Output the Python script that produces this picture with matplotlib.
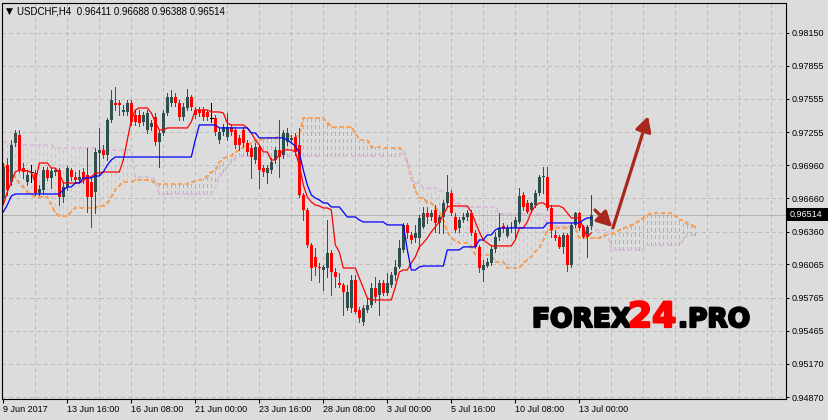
import matplotlib
matplotlib.use("Agg")
import matplotlib.pyplot as plt
import matplotlib.patheffects as pe
import matplotlib.transforms as mtransforms
from matplotlib.patches import Rectangle
import numpy as np

plt.rcParams['font.family'] = ['Liberation Sans', 'DejaVu Sans']

symbol = "USDCHF,H4"

opens = [
    0.96663, 0.96960, 0.96807, 0.97159, 0.97231, 0.96933, 0.96807, 0.96900, 0.96888, 0.96708,
    0.96735, 0.96915, 0.96843, 0.96897, 0.96915, 0.96672, 0.96762, 0.96915, 0.96852, 0.96825,
    0.96897, 0.96870, 0.96807, 0.96717, 0.97068, 0.97096, 0.97050, 0.97366, 0.97519, 0.97519,
    0.97438, 0.97438, 0.97519, 0.97411, 0.97411, 0.97348, 0.97276, 0.97303, 0.97393, 0.97168,
    0.97249, 0.97429, 0.97519, 0.97573, 0.97519, 0.97393, 0.97474, 0.97573, 0.97456, 0.97456,
    0.97456, 0.97438, 0.97384, 0.97384, 0.97186, 0.97258, 0.97213, 0.97303, 0.97276, 0.97204,
    0.97276, 0.97159, 0.97114, 0.97005, 0.97123, 0.96933, 0.96888, 0.96915, 0.97005, 0.97096,
    0.97050, 0.97168, 0.97186, 0.97213, 0.97141, 0.96690, 0.96555, 0.96240, 0.96131, 0.96041,
    0.96014, 0.96032, 0.96168, 0.95996, 0.95897, 0.95879, 0.95672, 0.95672, 0.95924, 0.95654,
    0.95546, 0.95654, 0.95699, 0.95852, 0.95789, 0.95897, 0.95807, 0.95879, 0.95969, 0.96041,
    0.96195, 0.96420, 0.96330, 0.96303, 0.96303, 0.96402, 0.96528, 0.96492, 0.96555, 0.96438,
    0.96492, 0.96618, 0.96708, 0.96492, 0.96393, 0.96465, 0.96492, 0.96528, 0.96348, 0.96222,
    0.96014, 0.96050, 0.96077, 0.96204, 0.96312, 0.96411, 0.96321, 0.96393, 0.96393, 0.96447,
    0.96690, 0.96618, 0.96555, 0.96600, 0.96708, 0.96852, 0.96852, 0.96573, 0.96330, 0.96312,
    0.96222, 0.96330, 0.96059, 0.96420, 0.96528, 0.96402, 0.96312, 0.96411,
]
highs = [
    0.96978, 0.97023, 0.97186, 0.97276, 0.97276, 0.96978, 0.96915, 0.96960, 0.96915, 0.96780,
    0.96942, 0.96942, 0.96933, 0.96933, 0.96933, 0.96807, 0.96951, 0.96933, 0.96897, 0.96915,
    0.96933, 0.97114, 0.96843, 0.97114, 0.97294, 0.97141, 0.97384, 0.97636, 0.97663, 0.97546,
    0.97501, 0.97546, 0.97546, 0.97456, 0.97456, 0.97438, 0.97456, 0.97366, 0.97429, 0.97276,
    0.97456, 0.97609, 0.97636, 0.97609, 0.97546, 0.97519, 0.97645, 0.97591, 0.97483, 0.97483,
    0.97483, 0.97456, 0.97519, 0.97411, 0.97294, 0.97330, 0.97429, 0.97330, 0.97303, 0.97231,
    0.97303, 0.97186, 0.97141, 0.97159, 0.97141, 0.96960, 0.96960, 0.97023, 0.97123, 0.97366,
    0.97276, 0.97294, 0.97231, 0.97249, 0.97294, 0.96708, 0.96573, 0.96258, 0.96213, 0.96077,
    0.96059, 0.96465, 0.96195, 0.96032, 0.95987, 0.95897, 0.95879, 0.95969, 0.95969, 0.95681,
    0.95699, 0.95771, 0.95897, 0.95951, 0.95924, 0.95924, 0.95987, 0.95996, 0.96104, 0.96285,
    0.96438, 0.96438, 0.96357, 0.96420, 0.96510, 0.96582, 0.96582, 0.96555, 0.96600, 0.96510,
    0.96645, 0.96870, 0.96735, 0.96528, 0.96492, 0.96528, 0.96555, 0.96555, 0.96375, 0.96240,
    0.96104, 0.96122, 0.96240, 0.96357, 0.96528, 0.96438, 0.96420, 0.96447, 0.96492, 0.96753,
    0.96717, 0.96645, 0.96627, 0.96735, 0.96870, 0.96942, 0.96942, 0.96600, 0.96375, 0.96330,
    0.96348, 0.96348, 0.96438, 0.96537, 0.96537, 0.96420, 0.96420, 0.96688,
]
lows = [
    0.96618, 0.96690, 0.96780, 0.97132, 0.96897, 0.96843, 0.96780, 0.96807, 0.96690, 0.96690,
    0.96708, 0.96825, 0.96753, 0.96870, 0.96600, 0.96627, 0.96735, 0.96825, 0.96798, 0.96807,
    0.96798, 0.96537, 0.96402, 0.96528, 0.96870, 0.97023, 0.97005, 0.97348, 0.97456, 0.97411,
    0.97411, 0.97411, 0.97321, 0.97321, 0.97312, 0.97321, 0.97249, 0.97276, 0.97141, 0.96942,
    0.97231, 0.97411, 0.97492, 0.97492, 0.97366, 0.97366, 0.97456, 0.97456, 0.97384, 0.97402,
    0.97366, 0.97366, 0.97348, 0.97231, 0.97159, 0.97231, 0.97186, 0.97231, 0.97114, 0.97096,
    0.97132, 0.97050, 0.96843, 0.96978, 0.96753, 0.96861, 0.96798, 0.96888, 0.96978, 0.96852,
    0.97023, 0.97141, 0.97168, 0.97050, 0.96672, 0.96465, 0.96222, 0.95924, 0.95969, 0.95906,
    0.95834, 0.95951, 0.95789, 0.95861, 0.95861, 0.95609, 0.95654, 0.95636, 0.95627, 0.95546,
    0.95519, 0.95636, 0.95681, 0.95726, 0.95609, 0.95789, 0.95789, 0.95861, 0.95924, 0.96032,
    0.96177, 0.96303, 0.96258, 0.96267, 0.96213, 0.96393, 0.96438, 0.96465, 0.96357, 0.96348,
    0.96348, 0.96582, 0.96510, 0.96357, 0.96357, 0.96447, 0.96465, 0.96330, 0.96213, 0.95996,
    0.95915, 0.96041, 0.96059, 0.96177, 0.96285, 0.96357, 0.96312, 0.96357, 0.96312, 0.96438,
    0.96555, 0.96528, 0.96537, 0.96582, 0.96690, 0.96708, 0.96555, 0.96312, 0.96285, 0.96213,
    0.96168, 0.96005, 0.96041, 0.96402, 0.96375, 0.96303, 0.96131, 0.96388,
]
closes = [
    0.96942, 0.96735, 0.97141, 0.97249, 0.96915, 0.96897, 0.96870, 0.96900, 0.96708, 0.96744,
    0.96915, 0.96843, 0.96906, 0.96915, 0.96672, 0.96762, 0.96933, 0.96852, 0.96825, 0.96852,
    0.96843, 0.96672, 0.96672, 0.97078, 0.97096, 0.97050, 0.97366, 0.97546, 0.97501, 0.97501,
    0.97456, 0.97519, 0.97348, 0.97348, 0.97339, 0.97411, 0.97429, 0.97339, 0.97168, 0.97249,
    0.97429, 0.97573, 0.97573, 0.97519, 0.97393, 0.97483, 0.97573, 0.97483, 0.97411, 0.97429,
    0.97393, 0.97393, 0.97384, 0.97258, 0.97258, 0.97303, 0.97303, 0.97258, 0.97141, 0.97141,
    0.97159, 0.97078, 0.97032, 0.97123, 0.96915, 0.96897, 0.96933, 0.96987, 0.97096, 0.97032,
    0.97249, 0.97249, 0.97204, 0.97078, 0.96690, 0.96555, 0.96240, 0.96032, 0.96041, 0.96032,
    0.96041, 0.96168, 0.95996, 0.95951, 0.95879, 0.95816, 0.95816, 0.95924, 0.95636, 0.95582,
    0.95672, 0.95699, 0.95852, 0.95771, 0.95897, 0.95807, 0.95897, 0.95969, 0.96041, 0.96213,
    0.96420, 0.96348, 0.96285, 0.96348, 0.96483, 0.96528, 0.96492, 0.96528, 0.96438, 0.96492,
    0.96618, 0.96717, 0.96528, 0.96375, 0.96465, 0.96492, 0.96528, 0.96348, 0.96222, 0.96032,
    0.96059, 0.96086, 0.96204, 0.96312, 0.96393, 0.96384, 0.96393, 0.96402, 0.96465, 0.96681,
    0.96582, 0.96537, 0.96618, 0.96708, 0.96852, 0.96861, 0.96573, 0.96375, 0.96303, 0.96222,
    0.96330, 0.96059, 0.96420, 0.96528, 0.96393, 0.96312, 0.96402, 0.96514,
]

tenkan = [
    0.96600, 0.96717, 0.96807, 0.96897, 0.96915, 0.96915, 0.96906, 0.96897, 0.96798, 0.96978,
    0.96978, 0.96978, 0.96933, 0.96933, 0.96888, 0.96798, 0.96798, 0.96798, 0.96798, 0.96798,
    0.96816, 0.96852, 0.96852, 0.96888, 0.96888, 0.96897, 0.96897, 0.96897, 0.96897, 0.96897,
    0.97005, 0.97186, 0.97366, 0.97456, 0.97474, 0.97474, 0.97474, 0.97429, 0.97348, 0.97276,
    0.97276, 0.97294, 0.97294, 0.97294, 0.97294, 0.97294, 0.97294, 0.97348, 0.97456, 0.97456,
    0.97456, 0.97456, 0.97438, 0.97438, 0.97438, 0.97429, 0.97339, 0.97321, 0.97321, 0.97321,
    0.97321, 0.97294, 0.97249, 0.97186, 0.97141, 0.97078, 0.97078, 0.97005, 0.97005, 0.97050,
    0.97096, 0.97096, 0.97096, 0.97078, 0.96960, 0.96780, 0.96672, 0.96627, 0.96600, 0.96591,
    0.96573, 0.96573, 0.96555, 0.96240, 0.96177, 0.96032, 0.96032, 0.96032, 0.96032, 0.95942,
    0.95852, 0.95762, 0.95744, 0.95744, 0.95744, 0.95744, 0.95744, 0.95744, 0.95861, 0.95996,
    0.96014, 0.96014, 0.96077, 0.96131, 0.96222, 0.96258, 0.96303, 0.96357, 0.96402, 0.96447,
    0.96510, 0.96582, 0.96591, 0.96591, 0.96591, 0.96591, 0.96591, 0.96537, 0.96447, 0.96357,
    0.96285, 0.96258, 0.96231, 0.96231, 0.96231, 0.96231, 0.96231, 0.96231, 0.96285, 0.96393,
    0.96393, 0.96447, 0.96537, 0.96591, 0.96618, 0.96618, 0.96591, 0.96591, 0.96591, 0.96591,
    0.96573, 0.96528, 0.96483, 0.96483, 0.96483, 0.96393, 0.96312, 0.96348,
]
kijun = [
    0.96537, 0.96600, 0.96681, 0.96699, 0.96699, 0.96699, 0.96699, 0.96699, 0.96699, 0.96699,
    0.96699, 0.96699, 0.96699, 0.96699, 0.96699, 0.96735, 0.96762, 0.96762, 0.96798, 0.96798,
    0.96843, 0.96843, 0.96843, 0.96861, 0.96861, 0.96897, 0.96960, 0.97005, 0.97032, 0.97032,
    0.97032, 0.97032, 0.97032, 0.97032, 0.97032, 0.97032, 0.97032, 0.97032, 0.97032, 0.97032,
    0.97032, 0.97032, 0.97032, 0.97032, 0.97032, 0.97032, 0.97032, 0.97032, 0.97186, 0.97321,
    0.97321, 0.97321, 0.97321, 0.97321, 0.97294, 0.97294, 0.97294, 0.97294, 0.97294, 0.97294,
    0.97294, 0.97294, 0.97249, 0.97249, 0.97204, 0.97204, 0.97204, 0.97204, 0.97204, 0.97204,
    0.97204, 0.97186, 0.97159, 0.97132, 0.97068, 0.96915, 0.96780, 0.96690, 0.96663, 0.96645,
    0.96618, 0.96618, 0.96582, 0.96582, 0.96582, 0.96537, 0.96492, 0.96492, 0.96492, 0.96465,
    0.96447, 0.96447, 0.96447, 0.96447, 0.96447, 0.96447, 0.96420, 0.96420, 0.96420, 0.96420,
    0.96420, 0.96195, 0.96014, 0.96014, 0.96041, 0.96050, 0.96050, 0.96050, 0.96050, 0.96050,
    0.96050, 0.96195, 0.96195, 0.96195, 0.96195, 0.96222, 0.96222, 0.96222, 0.96222, 0.96285,
    0.96285, 0.96330, 0.96330, 0.96375, 0.96393, 0.96393, 0.96393, 0.96393, 0.96393, 0.96393,
    0.96393, 0.96393, 0.96393, 0.96393, 0.96393, 0.96393, 0.96438, 0.96438, 0.96438, 0.96438,
    0.96438, 0.96438, 0.96438, 0.96438, 0.96438, 0.96465, 0.96483, 0.96483,
]
span_a = [
    0.96960, 0.96933, 0.96897, 0.96843, 0.96798, 0.96762, 0.96717, 0.96690, 0.96672, 0.96672,
    0.96672, 0.96672, 0.96600, 0.96528, 0.96501, 0.96501, 0.96501, 0.96537, 0.96573, 0.96573,
    0.96573, 0.96573, 0.96573, 0.96573, 0.96591, 0.96591, 0.96618, 0.96672, 0.96735, 0.96771,
    0.96807, 0.96807, 0.96807, 0.96825, 0.96825, 0.96825, 0.96825, 0.96825, 0.96789, 0.96789,
    0.96789, 0.96789, 0.96789, 0.96789, 0.96789, 0.96789, 0.96789, 0.96807, 0.96816, 0.96825,
    0.96834, 0.96861, 0.96897, 0.96915, 0.96978, 0.97023, 0.97032, 0.97041, 0.97078, 0.97096,
    0.97123, 0.97141, 0.97159, 0.97177, 0.97186, 0.97195, 0.97204, 0.97204, 0.97204, 0.97222,
    0.97222, 0.97222, 0.97222, 0.97222, 0.97222, 0.97384, 0.97384, 0.97384, 0.97384, 0.97384,
    0.97384, 0.97339, 0.97303, 0.97303, 0.97303, 0.97303, 0.97303, 0.97303, 0.97249, 0.97186,
    0.97186, 0.97186, 0.97123, 0.97123, 0.97123, 0.97114, 0.97114, 0.97114, 0.97114, 0.97114,
    0.97096, 0.96987, 0.96852, 0.96735, 0.96663, 0.96663, 0.96618, 0.96618, 0.96573, 0.96537,
    0.96465, 0.96357, 0.96303, 0.96276, 0.96258, 0.96258, 0.96258, 0.96222, 0.96149, 0.96149,
    0.96149, 0.96149, 0.96149, 0.96086, 0.96086, 0.96086, 0.96032, 0.96032, 0.96032, 0.96032,
    0.96077, 0.96104, 0.96131, 0.96177, 0.96213, 0.96285, 0.96375, 0.96375, 0.96393, 0.96393,
    0.96393, 0.96393, 0.96393, 0.96393, 0.96303, 0.96303, 0.96303, 0.96303, 0.96303, 0.96303,
    0.96321, 0.96330, 0.96339, 0.96348, 0.96375, 0.96393, 0.96402, 0.96420, 0.96429, 0.96465,
    0.96483, 0.96510, 0.96528, 0.96528, 0.96528, 0.96528, 0.96528, 0.96528, 0.96501, 0.96465,
    0.96465, 0.96429, 0.96420, 0.96402,
]
span_b = [
    0.97168, 0.97168, 0.97141, 0.97141, 0.97141, 0.97141, 0.97141, 0.97141, 0.97141, 0.97141,
    0.97141, 0.97141, 0.97141, 0.97114, 0.97114, 0.97114, 0.97114, 0.97114, 0.97114, 0.97114,
    0.97114, 0.97114, 0.97114, 0.97114, 0.97114, 0.97096, 0.97096, 0.97096, 0.97096, 0.97096,
    0.97096, 0.97096, 0.97096, 0.96852, 0.96852, 0.96852, 0.96852, 0.96852, 0.96825, 0.96699,
    0.96699, 0.96699, 0.96699, 0.96699, 0.96699, 0.96699, 0.96699, 0.96699, 0.96699, 0.96699,
    0.96699, 0.96699, 0.96699, 0.96753, 0.96861, 0.96897, 0.96942, 0.96987, 0.97023, 0.97041,
    0.97041, 0.97041, 0.97041, 0.97041, 0.97041, 0.97041, 0.97041, 0.97041, 0.97041, 0.97041,
    0.97041, 0.97041, 0.97041, 0.97041, 0.97041, 0.97041, 0.97041, 0.97041, 0.97041, 0.97041,
    0.97041, 0.97041, 0.97041, 0.97041, 0.97041, 0.97041, 0.97041, 0.97041, 0.97041, 0.97041,
    0.97041, 0.97041, 0.97041, 0.97041, 0.97041, 0.97041, 0.97041, 0.97041, 0.97041, 0.97041,
    0.97096, 0.96960, 0.96825, 0.96798, 0.96798, 0.96753, 0.96753, 0.96753, 0.96753, 0.96735,
    0.96717, 0.96690, 0.96663, 0.96627, 0.96609, 0.96582, 0.96582, 0.96582, 0.96582, 0.96582,
    0.96582, 0.96582, 0.96582, 0.96582, 0.96519, 0.96519, 0.96519, 0.96519, 0.96519, 0.96519,
    0.96519, 0.96519, 0.96519, 0.96519, 0.96519, 0.96519, 0.96411, 0.96411, 0.96411, 0.96411,
    0.96411, 0.96411, 0.96411, 0.96411, 0.96411, 0.96411, 0.96411, 0.96411, 0.96375, 0.96375,
    0.96375, 0.96375, 0.96195, 0.96195, 0.96195, 0.96195, 0.96195, 0.96195, 0.96195, 0.96195,
    0.96195, 0.96240, 0.96240, 0.96240, 0.96240, 0.96240, 0.96240, 0.96240, 0.96240, 0.96240,
    0.96285, 0.96330, 0.96330, 0.96330,
]

price_ticks = [0.98150, 0.97855, 0.97555, 0.97255, 0.96960, 0.96660,
               0.96360, 0.96065, 0.95765, 0.95465, 0.95170, 0.94870]
time_tick_bars = [0, 16, 32, 48, 64, 80, 96, 112, 128, 144]
time_tick_labels = ['9 Jun 2017', '13 Jun 16:00', '16 Jun 08:00', '21 Jun 00:00',
                    '23 Jun 16:00', '28 Jun 08:00', '3 Jul 00:00', '5 Jul 16:00',
                    '10 Jul 08:00', '13 Jul 00:00']

# forecast arrows (bar index, price)
arrow_short = ((147.9, 0.96555), (152.2, 0.96402))
arrow_long = ((152.4, 0.96393), (161.2, 0.97400))

for name, arr, n in [('highs', highs, len(opens)), ('lows', lows, len(opens)),
                     ('closes', closes, len(opens)), ('tenkan', tenkan, len(opens)),
                     ('kijun', kijun, len(opens)), ('span_b', span_b, len(span_a))]:
    if len(arr) != n:
        raise SystemExit(f'{name} length {len(arr)} != {n}')

BG = '#DCDCDC'
GRID = '#BEBEBE'
BULL = '#2F4F4F'
BEAR = '#FF0000'
SANDY = '#F4A460'
THISTLE = '#D8BFD8'
ARROW = '#A8281E'
PX = 0.72  # one pixel in points

W, H = 829, 420
fig = plt.figure(figsize=(W / 100, H / 100), dpi=100, facecolor=BG)
ax = fig.add_axes([2.5 / W, 21 / H, 783.5 / W, 396.5 / H], facecolor=BG)
ax.set_xlim(-0.2, -0.2 + 783.5 / 4)
ax.set_ylim(0.94852, 0.98424)

# grid
for gb in range(8, 200, 8):
    ax.axvline(gb, color=GRID, lw=PX, dashes=(4, 4), zorder=0, antialiased=False)
for pt in price_ticks:
    ax.axhline(pt, color=GRID, lw=PX, dashes=(4, 4), zorder=0, antialiased=False)

# bid line
ax.axhline(closes[-1], color='#B4B4B4', lw=PX, zorder=0.5, antialiased=False)

# Ichimoku cloud
A = np.array(span_a)
B = np.array(span_b)
xc = np.arange(len(A))
up = A >= B
ax.vlines(xc[up], B[up], A[up], colors=SANDY, lw=PX, linestyles=(0, (3, 3)),
          zorder=1, antialiased=False)
ax.vlines(xc[~up], A[~up], B[~up], colors=THISTLE, lw=PX, linestyles=(0, (3, 3)),
          zorder=1, antialiased=False)
ax.plot(xc, A, color=SANDY, lw=PX, ls=(0, (3, 3)), zorder=1.2, antialiased=False)
ax.plot(xc, B, color=THISTLE, lw=PX, ls=(0, (3, 3)), zorder=1.2, antialiased=False)

# candles
O = np.array(opens); Hh = np.array(highs); L = np.array(lows); C = np.array(closes)
x = np.arange(len(O))
cols = np.where(C > O, BULL, np.where(C < O, BEAR, 'black'))
ax.vlines(x, L, Hh, colors=cols, lw=PX, zorder=2, antialiased=False)
ax.bar(x, np.abs(C - O), bottom=np.minimum(O, C), width=0.75, color=cols, lw=0,
       zorder=2.1, antialiased=False)
doji = C == O
ax.hlines(O[doji], x[doji] - 0.4, x[doji] + 0.4, colors='black', lw=PX, zorder=2.2,
          antialiased=False)

# Tenkan / Kijun
ax.plot(x, tenkan, color='#FF0000', lw=0.9, zorder=3)
ax.plot(x, kijun, color='#0000FF', lw=0.9, zorder=3)

# arrows
for (s, e) in (arrow_short, arrow_long):
    ax.annotate('', xy=e, xytext=s,
                arrowprops=dict(arrowstyle='-|>,head_length=0.6,head_width=0.32',
                                color=ARROW, lw=2.3, shrinkA=0, shrinkB=0,
                                mutation_scale=15),
                annotation_clip=False, zorder=6)

# spines
for s in ax.spines.values():
    s.set_color('black')
    s.set_linewidth(0.8)

# ticks
ax.yaxis.tick_right()
ax.set_yticks(price_ticks, [f'{v:.5f}' for v in price_ticks])
ax.tick_params(axis='y', direction='out', length=2.5, width=0.75, pad=1.5,
               labelsize=6.5, color='black', labelcolor='black')
ax.set_xticks(time_tick_bars, time_tick_labels)
ax.tick_params(axis='x', direction='out', length=3, width=0.75, pad=1.2,
               labelsize=6.5, color='black', labelcolor='black')
for lbl in ax.get_xticklabels():
    lbl.set_horizontalalignment('left')

# current price box
trans = mtransforms.blended_transform_factory(ax.transAxes, ax.transData)
half = 6.5 * (0.98424 - 0.94852) / 396.5
ax.add_patch(Rectangle((1 + 1 / 783.5, closes[-1] - half), 41 / 783.5, 2 * half,
                       transform=trans, facecolor='black', edgecolor='none',
                       clip_on=False, zorder=9))
ax.text(1 + 4 / 783.5, closes[-1], f'{closes[-1]:.5f}', transform=trans,
        ha='left', va='center', fontsize=6.5, color='white', zorder=10, clip_on=False)

# header
fig.text(5.5 / W, 1 - 11 / H, '\u25BC', fontsize=6.5, va='center', ha='left',
         family=['DejaVu Sans'])
fig.text(17 / W, 1 - 11 / H,
         f'{symbol}  {opens[-1]:.5f} {highs[-1]:.5f} {lows[-1]:.5f} {closes[-1]:.5f}',
         fontsize=7, va='center', ha='left')

# watermark
stroke_k = [pe.withStroke(linewidth=1.6, foreground='black')]
stroke_r = [pe.withStroke(linewidth=1.6, foreground='red')]
yb = 1 - 327 / H
fig.text(532 / W, yb, 'FOREX', fontsize=19, fontweight='bold', family='DejaVu Sans',
         color='black', va='baseline', ha='left', path_effects=stroke_k, zorder=20)
fig.text(628 / W, yb, '24', fontsize=25, fontweight='bold', family='DejaVu Sans',
         color='red', va='baseline', ha='left', path_effects=stroke_r, zorder=20)
fig.text(678 / W, yb, '.PRO', fontsize=19, fontweight='bold', family='DejaVu Sans',
         color='black', va='baseline', ha='left', path_effects=stroke_k, zorder=20)

fig.savefig('out.png', dpi=100, facecolor=BG)
